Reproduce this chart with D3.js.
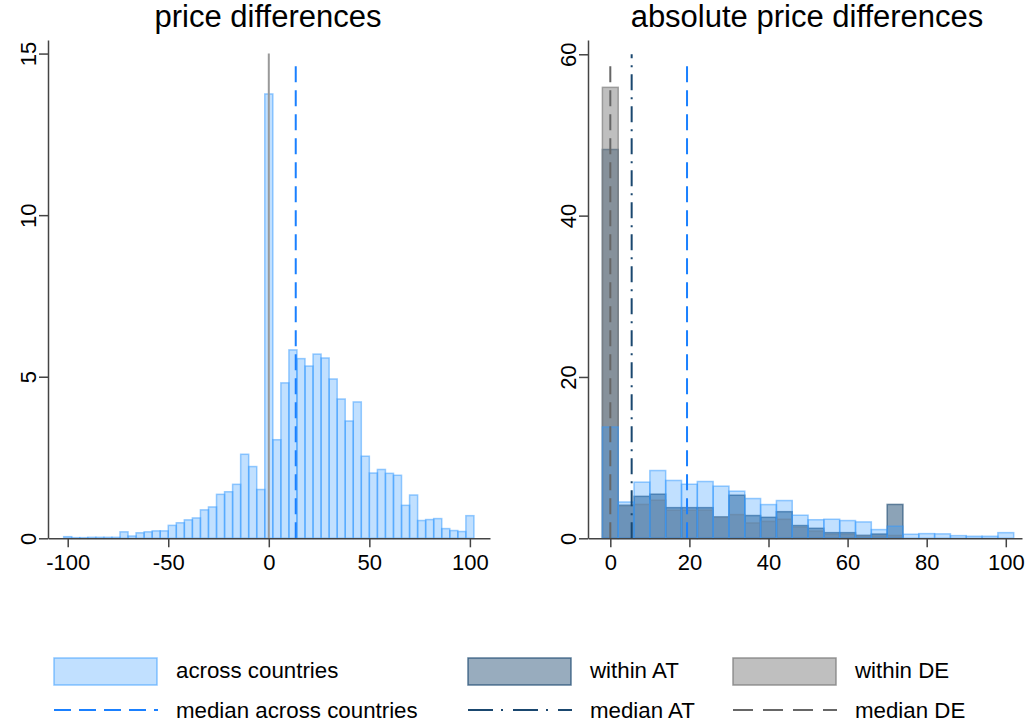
<!DOCTYPE html>
<html>
<head>
<meta charset="utf-8">
<script src="https://cdn.jsdelivr.net/npm/d3@7"></script>
<style>
  body { margin: 0; background: #fff; }
  svg { font-family: "Liberation Sans", Arial, sans-serif; }
</style>
</head>
<body>
<div id="chart"></div>
<script>
// left panel: price differences, bins of width 4 centred on -100..100
const diffBins = d3.range(-100, 101, 4);
const diffShares = [0.05, 0.02, 0.02, 0.03, 0.03, 0.03, 0.03, 0.2, 0.07, 0.17, 0.2, 0.23, 0.23,
  0.4, 0.48, 0.57, 0.63, 0.88, 0.97, 1.36, 1.44, 1.67, 2.6, 2.22, 1.51,
  13.75,
  3.05, 4.81, 5.83, 5.56, 5.33, 5.7, 5.58, 4.93, 4.31, 3.63, 4.22, 2.54, 2.02,
  2.13, 2.01, 1.95, 1.02, 1.34, 0.55, 0.58, 0.61, 0.3, 0.24, 0.21, 0.7];
const diffMedian = 13.4;

// right panel: absolute price differences, bins centred on 0..100
const absBins = d3.range(0, 101, 4);
const absAcross = [13.8, 4.5, 6.96, 8.4, 7.17, 6.7, 7.04, 6.46, 5.84, 4.93, 4.18, 4.68, 2.86,
  2.3, 2.36, 2.2, 2.03, 1.08, 1.5, 0.5, 0.58, 0.55, 0.33, 0.25, 0.25, 0.7];
const absAT = [48.2, 4.1, 5.2, 5.47, 3.8, 3.8, 3.8, 2.65, 5.34, 2.82, 2.6, 3.3, 1.58,
  1.24, 0.7, 0.7, 0.37, 0.53, 4.2, 0, 0, 0, 0, 0, 0, 0];
const absDE = [55.9, 4.0, 4.2, 4.72, 3.48, 3.48, 3.5, 2.6, 2.94, 1.9, 2.1, 2.36, 1.4,
  0.9, 0.5, 0.5, 0.3, 0.3, 0.35, 0, 0, 0, 0, 0, 0, 0];
const medianAcross = 19.4;
const medianAT = 5.4;
const medianDE = 0;

const leftTicksX = [-100, -50, 0, 50, 100];
const leftTicksY = [0, 5, 10, 15];
const rightTicksX = [0, 20, 40, 60, 80, 100];
const rightTicksY = [0, 20, 40, 60];

const BLUE = "#3399ff", NAVY = "#1a476f", GRAY = "#808080";
const LINE_BLUE = "#1a80ff", LINE_NAVY = "#1a476f", LINE_GRAY = "#666666";

const svg = d3.select("#chart").append("svg")
    .attr("width", 1032)
    .attr("height", 727);

function drawAxes(g, x, y, ticksX, ticksY) {
    const xa = g.append("g")
        .attr("transform", "translate(0," + y(0) + ")")
        .call(d3.axisBottom(x).tickValues(ticksX).tickSize(9).tickSizeOuter(0).tickFormat(d3.format("d")));
    xa.selectAll("text").attr("y", 32).attr("dy", null)
        .style("font-size", "22px").attr("fill", "#000")
        .text(d => d < 0 ? "-" + Math.abs(d) : d);

    const ya = g.append("g")
        .attr("transform", "translate(" + x.range()[0] + ",0)")
        .call(d3.axisLeft(y).tickValues(ticksY).tickSize(9).tickSizeOuter(0));
    ya.selectAll("text")
        .attr("transform", "rotate(-90)")
        .attr("x", 0).attr("y", -12).attr("dy", null)
        .attr("text-anchor", "middle")
        .style("font-size", "22px").attr("fill", "#000");

    g.selectAll(".domain").attr("stroke", "#444").attr("stroke-width", 1.5);
    g.selectAll(".tick line").attr("stroke", "#444").attr("stroke-width", 1.5);
    g.selectAll("text").attr("font-family", null);
}

function drawBars(g, x, y, bins, vals, color, fillOp, strokeOp) {
    g.append("g")
        .selectAll("rect")
        .data(bins.map((b, i) => ({ b: b, v: vals[i] })).filter(d => d.v > 0))
        .enter().append("rect")
        .attr("x", d => x(d.b - 2))
        .attr("width", d => x(d.b + 2) - x(d.b - 2))
        .attr("y", d => y(d.v))
        .attr("height", d => y(0) - y(d.v))
        .attr("fill", color)
        .attr("fill-opacity", fillOp)
        .attr("stroke", color)
        .attr("stroke-opacity", strokeOp)
        .attr("stroke-width", 1.5);
}

function vline(g, x, y, at, top, color, dash) {
    g.append("line")
        .attr("x1", x(at)).attr("x2", x(at))
        .attr("y1", y(0)).attr("y2", y(top))
        .attr("stroke", color)
        .attr("stroke-width", 2)
        .attr("stroke-dasharray", dash);
}

// ---- left panel
const xL = d3.scaleLinear().domain([-109.8, 110]).range([48, 490]);
const yL = d3.scaleLinear().domain([0, 15.42]).range([538.3, 40]);
const left = svg.append("g");

drawBars(left, xL, yL, diffBins, diffShares, BLUE, 0.3, 0.5);
vline(left, xL, yL, 0, 15, "#999999", null);
vline(left, xL, yL, diffMedian, 14.8, LINE_BLUE, "16,8");
drawAxes(left, xL, yL, leftTicksX, leftTicksY);

left.append("text")
    .attr("x", 268).attr("y", 27)
    .attr("text-anchor", "middle")
    .style("font-size", "31px")
    .text("price differences");

// ---- right panel
const xR = d3.scaleLinear().domain([-5.64, 104.1]).range([588, 1022]);
const yR = d3.scaleLinear().domain([0, 61.77]).range([538.3, 40]);
const right = svg.append("g");

drawBars(right, xR, yR, absBins, absAT, NAVY, 0.5, 0.6);
drawBars(right, xR, yR, absBins, absDE, GRAY, 0.5, 0.7);
drawBars(right, xR, yR, absBins, absAcross, BLUE, 0.3, 0.5);
vline(right, xR, yR, medianDE, 59.3, LINE_GRAY, "16,8");
vline(right, xR, yR, medianAT, 60, LINE_NAVY, "16,7,2,7");
vline(right, xR, yR, medianAcross, 59.3, LINE_BLUE, "16,8");
drawAxes(right, xR, yR, rightTicksX, rightTicksY);

right.append("text")
    .attr("x", 807).attr("y", 27)
    .attr("text-anchor", "middle")
    .style("font-size", "31px")
    .text("absolute price differences");

// ---- legend
const legendBoxes = [
    { label: "across countries", color: BLUE, fillOp: 0.3, strokeOp: 0.55, x: 54 },
    { label: "within AT", color: NAVY, fillOp: 0.45, strokeOp: 0.7, x: 468 },
    { label: "within DE", color: GRAY, fillOp: 0.5, strokeOp: 0.8, x: 733 }
];
const legendLines = [
    { label: "median across countries", color: LINE_BLUE, dash: "17,8", x: 54 },
    { label: "median AT", color: LINE_NAVY, dash: "25,8,2,10", x: 468 },
    { label: "median DE", color: LINE_GRAY, dash: "20,10", x: 733 }
];

const legend = svg.append("g").style("font-size", "22.3px");

legend.selectAll("rect")
    .data(legendBoxes)
    .enter().append("rect")
    .attr("x", d => d.x).attr("y", 658)
    .attr("width", 103).attr("height", 27)
    .attr("fill", d => d.color).attr("fill-opacity", d => d.fillOp)
    .attr("stroke", d => d.color).attr("stroke-opacity", d => d.strokeOp)
    .attr("stroke-width", 1.5);

legend.selectAll("line")
    .data(legendLines)
    .enter().append("line")
    .attr("x1", d => d.x).attr("x2", d => d.x + 104)
    .attr("y1", 710).attr("y2", 710)
    .attr("stroke", d => d.color).attr("stroke-width", 2)
    .attr("stroke-dasharray", d => d.dash);

legend.selectAll("text.box")
    .data(legendBoxes)
    .enter().append("text")
    .attr("class", "box")
    .attr("x", d => d.x + 122).attr("y", 678)
    .text(d => d.label);

legend.selectAll("text.line")
    .data(legendLines)
    .enter().append("text")
    .attr("class", "line")
    .attr("x", d => d.x + 122).attr("y", 718)
    .text(d => d.label);
</script>
</body>
</html>
